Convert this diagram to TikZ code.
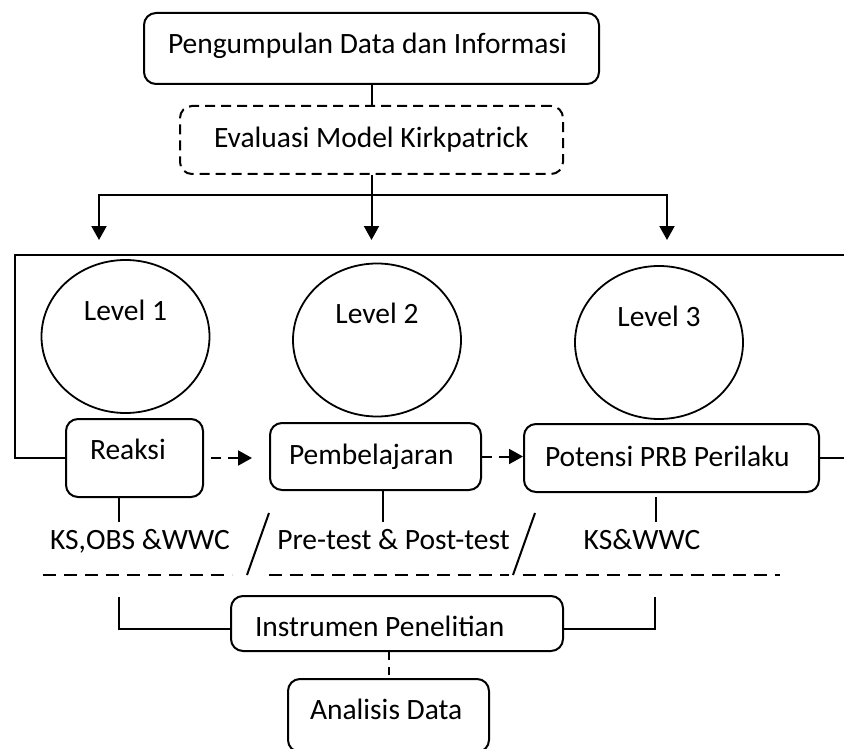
\documentclass[tikz,border=0pt]{standalone}
\usepackage{fontspec}
\setmainfont{Carlito}
\usepackage{tikz}
\usetikzlibrary{arrows.meta,shapes.geometric,positioning,calc}

\begin{document}
\begin{tikzpicture}[x=1pt,y=-1pt,line width=2pt,
            font=\fontsize{29.5pt}{35pt}\selectfont,
            kotak/.style={draw,rounded corners=12pt,anchor=north west,
              inner ysep=0pt,inner xsep=24pt,
              execute at begin node={\spaceskip=0pt\xspaceskip=0pt\relax}},
            lingkaran/.style={draw,ellipse,line width=1.8pt,inner sep=0pt,
              minimum width=168pt,minimum height=153pt,
              text height=20pt,text depth=53pt},
            ket/.style={anchor=base,inner xsep=0pt,inner ysep=6pt,
              text height=20pt,text depth=6pt},
            panah/.style={-{Triangle[length=14pt,width=15pt]}},
            putus/.style={dash pattern=on 10pt off 7pt}
            ]
            \useasboundingbox (0,0) rectangle (844,749);

            \node[kotak,text width=407pt,text height=41pt,text depth=30pt]
              (info) at (143,12) {Pengumpulan Data dan Informasi};
            \node[kotak,dash pattern=on 10pt off 6pt,inner xsep=34pt,
              text width=315pt,text height=42pt,text depth=26pt]
              (model) at (179,105) {Evaluasi Model Kirkpatrick};

            \node[lingkaran] (lv1) at (125.5,336.5) {Level 1};
            \node[lingkaran] (lv2) at (377,340)     {Level 2};
            \node[lingkaran] (lv3) at (659,342.5)   {Level 3};

            \node[kotak,text width=89pt,text height=40pt,text depth=38pt]
              (reaksi) at (65,418) {Reaksi};
            \node[kotak,inner xsep=19pt,text width=173pt,
              text height=41pt,text depth=26pt]
              (belajar) at (269,422) {Pembelajaran};
            \node[kotak,inner xsep=21pt,text width=253pt,
              text height=42pt,text depth=26pt]
              (potensi) at (523,423) {Potensi PRB Perilaku};

            \node[ket] (ket1) at (140,549)   {KS,OBS \&WWC};
            \node[ket] (ket2) at (393.5,549) {Pre-test \& Post-test};
            \node[ket] (ket3) at (642,549)   {KS\&WWC};

            \node[kotak,text width=284pt,text height=40pt,text depth=15pt]
              (instrumen) at (230,595) {Instrumen Penelitian};
            \node[kotak,inner xsep=22pt,text width=157pt,
              text height=40pt,text depth=33pt]
              (analisis) at (287,678) {Analisis Data};

            \coordinate (cabang) at (model.south |- 0,195);
            \coordinate (t1) at (99,240);
            \coordinate (t2) at (cabang |- t1);
            \coordinate (t3) at (667,240);
            \draw (info) -- (model);
            \draw[panah] (model.south) -- (t2);
            \draw[panah] (cabang) -| (t1);
            \draw[panah] (cabang) -| (t3);

            \draw (reaksi.west) -| (15,255) -- (844,255);
            \draw (potensi.east) -- (potensi.east -| 844,0);

            \draw[panah,putus,shorten <=7pt,shorten >=17pt]
              (reaksi.east) -- (reaksi.east -| belajar.west);
            \draw[panah,putus] (belajar.east) -- (belajar.east -| potensi.west);

            \draw (119,0 |- reaksi.south) -- (119,0 |- ket1.north);
            \draw (383,0 |- belajar.south) -- (383,0 |- ket2.north);
            \draw[shorten <=4pt] (656,0 |- potensi.south) -- (656,0 |- ket3.north);

            \draw[dash pattern=on 13pt off 8pt] (43,575) -- (232,575);
            \draw[dash pattern=on 13pt off 8pt,line width=2.6pt] (269,575) -- (509,575);
            \draw[dash pattern=on 13pt off 8pt] (523,575) -- (780,575);
            \draw (269,513) -- (247,575);
            \draw (535,513) -- (513,575);

            \coordinate (kiri) at (119,597);
            \coordinate (kanan) at (655,597);
            \draw (kiri) |- ([yshift=-5.5pt]instrumen.west);
            \draw (kanan) |- ([yshift=-5.5pt]instrumen.east);
            \draw[dash pattern=on 8pt off 7pt]
              (analisis.north |- instrumen.south) -- (analisis.north);
          \end{tikzpicture}
\end{document}
